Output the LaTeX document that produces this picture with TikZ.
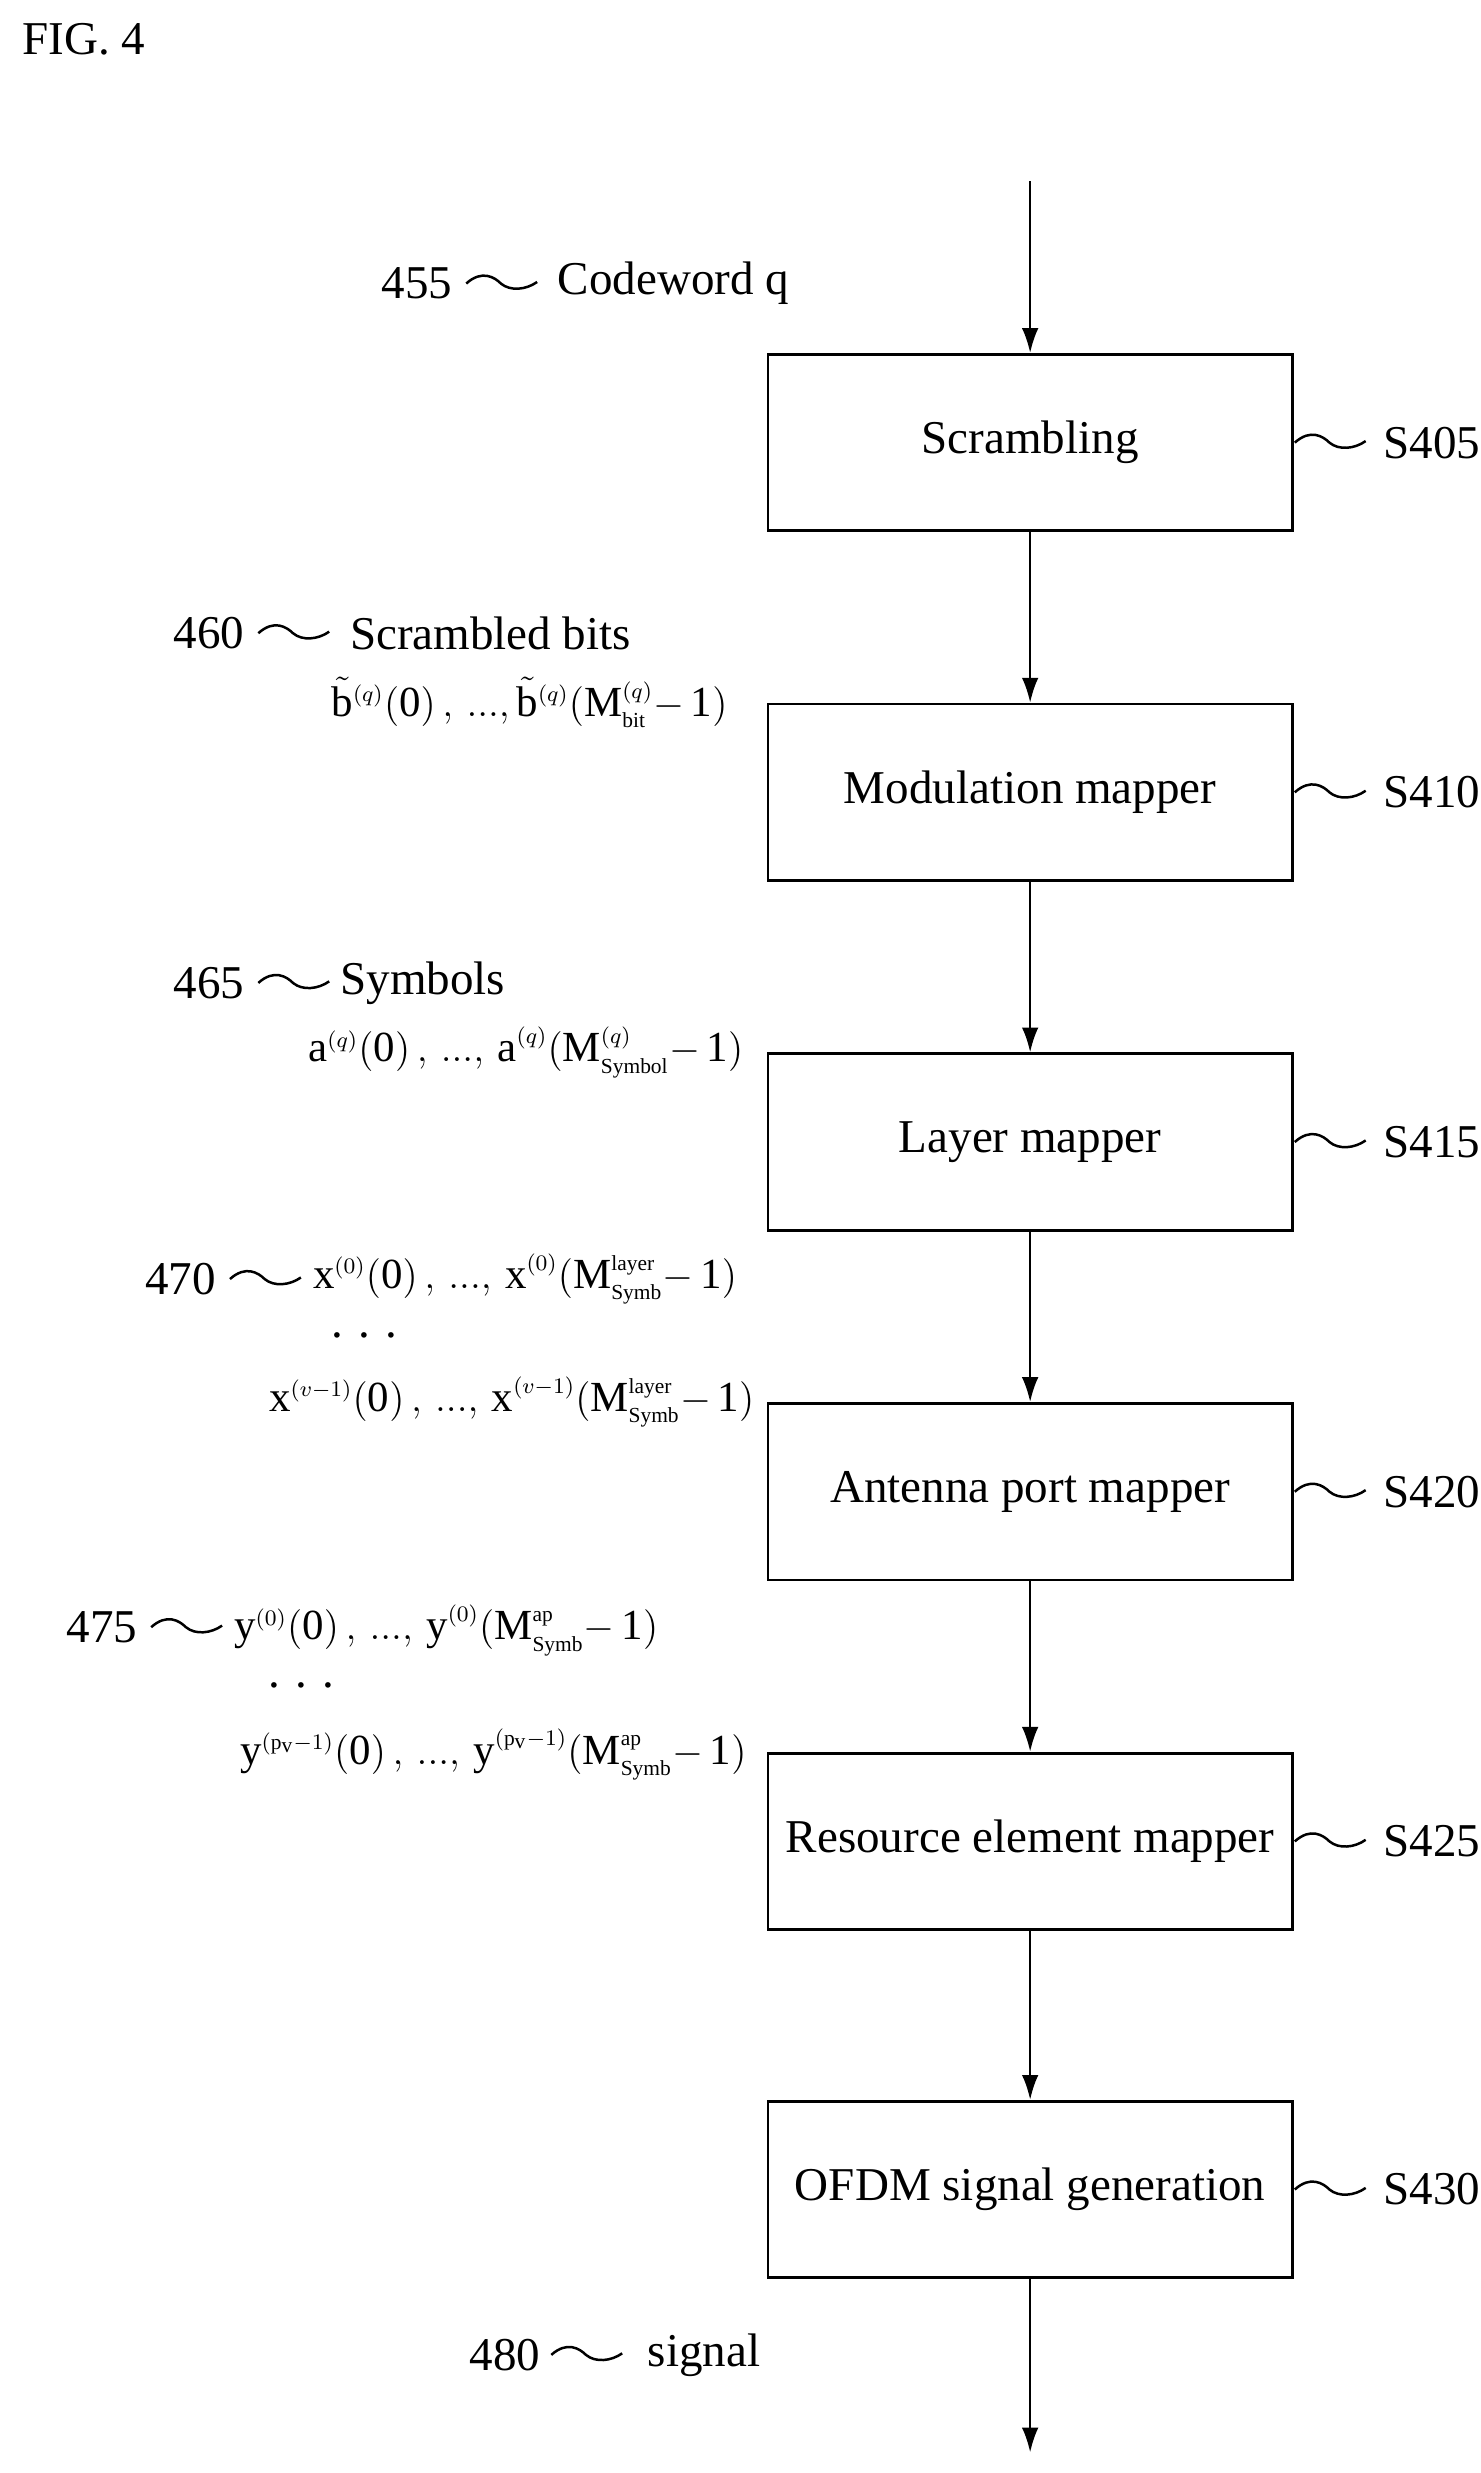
\documentclass[tikz,border=0pt]{standalone}
\usepackage{fontspec}
\setmainfont{Liberation Serif}
\usepackage{amsmath}
\usetikzlibrary{arrows.meta}
\newcommand{\squiggle}[2]{
    \draw[line width=0.9pt] (#1,#2) .. controls (#1+10,#2+9) and (#1+18,#2+4) .. (#1+22,#2) .. controls (#1+28,#2-5) and (#1+38,#2-4) .. (#1+45,#2+1);
}
\newcommand{\sx}[1]{^{\scriptscriptstyle(#1)}}
\tikzset{
    procbox/.style={draw, line width=1pt, minimum width=333*0.02cm, minimum height=112*0.02cm, font=\fontsize{17}{20}\selectfont},
    lbl/.style={anchor=west, font=\fontsize{17}{20}\selectfont},
    mlbl/.style={anchor=east, inner sep=1pt, font=\fontsize{15.5}{18}\selectfont},
    flow/.style={-{Latex[length=9pt,width=6pt]}, line width=0.9pt}
}
\begin{document}
\begin{tikzpicture}[x=0.02cm,y=0.02cm]
\useasboundingbox (0,0) rectangle (940,-1570);
\node[lbl] (fig) at (8,-25) {FIG. 4};
\foreach \name/\txt/\y/\tag in {
    scr/Scrambling/281/S405,
    mod/Modulation mapper/503/S410,
    lay/Layer mapper/725/S415,
    ant/Antenna port mapper/947/S420,
    rem/Resource element mapper/1169/S425,
    ofdm/OFDM signal generation/1390/S430
}{
    \node[procbox] (\name) at (654,-\y) {\txt};
    \squiggle{822}{-\y}
    \node[lbl] (\name-tag) at (872,-\y) {\tag};
}
\coordinate (in) at (654,-115);
\coordinate (out) at (654,-1557);
\draw[flow] (in) -- (scr);
\draw[flow] (scr) -- (mod);
\draw[flow] (mod) -- (lay);
\draw[flow] (lay) -- (ant);
\draw[flow] (ant) -- (rem);
\draw[flow] (rem) -- (ofdm);
\draw[flow] (ofdm) -- (out);
% data labels
\node[lbl] (n455) at (236,-180) {455};
\squiggle{296}{-180}
\node[lbl] (cw) at (348,-180) {Codeword q};
\node[lbl] (n460) at (104,-402) {460};
\squiggle{164}{-402}
\node[lbl] (sb) at (216,-402) {Scrambled bits};
\node[mlbl] (sbv) at (464,-446) {$\tilde{\mathrm{b}}\sx{q}\mathrm{(0)\,,\,...,\,}\tilde{\mathrm{b}}\sx{q}\mathrm{(M}^{\scriptscriptstyle(q)}_{\scriptscriptstyle\mathrm{bit}}\mathrm{-\,1)}$};
\node[lbl] (n465) at (104,-624) {465};
\squiggle{164}{-624}
\node[lbl] (sy) at (210,-624) {Symbols};
\node[mlbl] (syv) at (474,-668) {$\mathrm{a}\sx{q}\mathrm{(0)\,,\,...,\,a}\sx{q}\mathrm{(M}^{\scriptscriptstyle(q)}_{\scriptscriptstyle\mathrm{Symbol}}\mathrm{-\,1)}$};
\node[lbl] (n470) at (86,-812) {470};
\squiggle{146}{-812}
\node[mlbl] (xv0) at (470,-812) {$\mathrm{x}\sx{0}\mathrm{(0)\,,\,...,\,x}\sx{0}\mathrm{(M}^{\scriptscriptstyle\mathrm{layer}}_{\scriptscriptstyle\mathrm{Symb}}\mathrm{-\,1)}$};
\node[lbl] (xdots) at (204,-848) {. . .};
\node[mlbl] (xv1) at (481,-890) {$\mathrm{x}\sx{v-1}\mathrm{(0)\,,\,...,\,x}\sx{v-1}\mathrm{(M}^{\scriptscriptstyle\mathrm{layer}}_{\scriptscriptstyle\mathrm{Symb}}\mathrm{-\,1)}$};
\node[lbl] (n475) at (36,-1033) {475};
\squiggle{96}{-1033}
\node[mlbl] (yv0) at (420,-1035) {$\mathrm{y}\sx{0}\mathrm{(0)\,,\,...,\,y}\sx{0}\mathrm{(M}^{\scriptscriptstyle\mathrm{ap}}_{\scriptscriptstyle\mathrm{Symb}}\mathrm{-\,1)}$};
\node[lbl] (ydots) at (164,-1070) {. . .};
\node[mlbl] (yv1) at (476,-1114) {$\mathrm{y}^{\scriptscriptstyle(\mathrm{p_v}-1)}\mathrm{(0)\,,\,...,\,y}^{\scriptscriptstyle(\mathrm{p_v}-1)}\mathrm{(M}^{\scriptscriptstyle\mathrm{ap}}_{\scriptscriptstyle\mathrm{Symb}}\mathrm{-\,1)}$};
\node[lbl] (n480) at (292,-1495) {480};
\squiggle{350}{-1495}
\node[lbl] (sig) at (405,-1495) {signal};
\end{tikzpicture}
\end{document}
